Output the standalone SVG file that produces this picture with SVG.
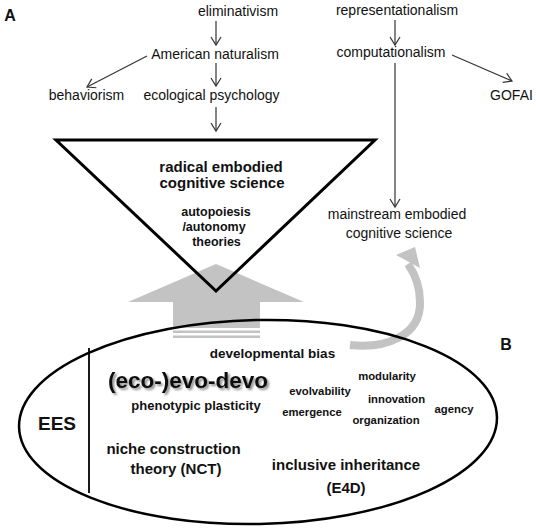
<svg xmlns="http://www.w3.org/2000/svg" width="536" height="529" viewBox="0 0 536 529">
<style>
.t{font-family:"Liberation Sans",Arial,sans-serif;font-size:14px;fill:#111;text-anchor:middle}
.b{font-family:"Liberation Sans",Arial,sans-serif;font-weight:bold;fill:#111;text-anchor:middle}
.c{stroke:#333;stroke-width:1.2;fill:none;marker-end:url(#ah)}
.gray{fill:#c3c3c3}
</style>
<defs>
<marker id="ah" markerUnits="userSpaceOnUse" markerWidth="14" markerHeight="14" viewBox="-10 -7 12 14" refX="0" refY="0" orient="auto">
<path d="M-8,-5 L0,0 L-8,5" fill="none" stroke="#333" stroke-width="1.2"/>
</marker>
<filter id="sh" x="-10%" y="-20%" width="130%" height="150%">
<feGaussianBlur in="SourceAlpha" stdDeviation="1.2"/>
<feOffset dx="1.5" dy="1.5" result="o"/>
<feComponentTransfer><feFuncA type="linear" slope="0.45"/></feComponentTransfer>
<feMerge><feMergeNode/><feMergeNode in="SourceGraphic"/></feMerge>
</filter>
</defs>
<rect width="536" height="529" fill="#fff"/>

<text class="b" x="10" y="21" font-size="16">A</text>
<text class="b" x="506" y="350" font-size="16">B</text>

<g id="big-arrow">
<polygon class="gray" points="216,264 304,302 260,302 260,328 173,328 173,302 128,302"/>
<rect class="gray" x="173" y="330.5" width="87" height="2.5"/>
<rect class="gray" x="173" y="335.5" width="87" height="2.5"/>
</g>

<g id="radical-embodied">
<polygon points="56,140 375,140 216,291" fill="none" stroke="#000" stroke-width="3" stroke-linejoin="miter"/>
<text class="b" x="221" y="172" font-size="15">radical embodied</text>
<text class="b" x="222" y="188" font-size="15">cognitive science</text>
<text class="b" x="216" y="216" font-size="12.5">autopoiesis</text>
<text class="b" x="214" y="231" font-size="12.5">/autonomy</text>
<text class="b" x="216.5" y="246" font-size="12.5">theories</text>
</g>

<g id="curved-arrow">
<path d="M350,345 C385,349 421,336 420,302 C420,286 415,274 408,264" fill="none" stroke="#c3c3c3" stroke-width="8"/>
<polygon class="gray" points="415,247 396,255 420,268"/>
</g>

<g id="eliminativism"><text class="t" x="238" y="16">eliminativism</text></g>
<g id="american-naturalism"><text class="t" x="215" y="59">American naturalism</text></g>
<g id="ecological-psychology"><text class="t" x="211.5" y="100">ecological psychology</text></g>
<g id="behaviorism"><text class="t" x="86.5" y="100">behaviorism</text></g>
<g id="representationalism"><text class="t" x="397" y="15">representationalism</text></g>
<g id="computationalism"><text class="t" x="391" y="57">computationalism</text></g>
<g id="gofai"><text class="t" x="511.5" y="100">GOFAI</text></g>
<g id="mainstream"><text class="t" x="397" y="219">mainstream embodied</text><text class="t" x="399" y="238">cognitive science</text></g>

<g id="connectors">
<line class="c" x1="216" y1="21" x2="216" y2="45"/>
<line class="c" x1="216" y1="63" x2="216" y2="86"/>
<line class="c" x1="216" y1="107" x2="216" y2="131"/>
<line class="c" x1="147" y1="56" x2="87" y2="87"/>
<line class="c" x1="395" y1="20" x2="395" y2="45"/>
<line class="c" x1="452" y1="55" x2="512" y2="81"/>
<line class="c" x1="395" y1="63" x2="395" y2="207"/>
</g>

<g id="ees">
<ellipse cx="258" cy="422" rx="239" ry="102" transform="rotate(-1.2 258 422)" fill="none" stroke="#000" stroke-width="2.5"/>
<line x1="89" y1="348" x2="89" y2="493" stroke="#000" stroke-width="1.8"/>
<text class="b" x="57" y="430" font-size="19">EES</text>
<text class="b" x="188" y="388" font-size="22.5" filter="url(#sh)">(eco-)evo-devo</text>
<text class="b" x="196" y="410" font-size="13">phenotypic plasticity</text>
<text class="b" x="272.5" y="358" font-size="13.5">developmental bias</text>
<text class="b" x="173.5" y="454" font-size="15">niche construction</text>
<text class="b" x="176" y="474" font-size="15">theory (NCT)</text>
<text class="b" x="346" y="470" font-size="15">inclusive inheritance</text>
<text class="b" x="346" y="493" font-size="15">(E4D)</text>
<text class="b" x="387" y="380" font-size="11.3">modularity</text>
<text class="b" x="320" y="395" font-size="11.3">evolvability</text>
<text class="b" x="396.5" y="403" font-size="11.3">innovation</text>
<text class="b" x="312" y="416" font-size="11.3">emergence</text>
<text class="b" x="386" y="424" font-size="11.3">organization</text>
<text class="b" x="454" y="413" font-size="11.3">agency</text>
</g>
</svg>
